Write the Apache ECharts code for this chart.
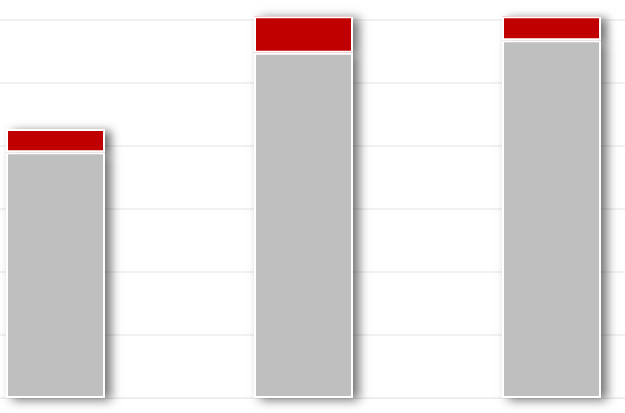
<!DOCTYPE html>
<html>
<head>
<meta charset="utf-8">
<script src="https://cdn.jsdelivr.net/npm/echarts@6/dist/echarts.min.js"></script>
<style>
  html, body { margin: 0; padding: 0; background: #fff; }
  #chart { width: 625px; height: 413px; }
</style>
</head>
<body>
<div id="chart"></div>
<script>
const categories = ["A", "B", "C"];
const baseValues = [39, 54.8, 56.8];
const topValues = [3.7, 5.8, 3.8];

function chartInit() {
  let mychart = echarts.init(document.getElementById("chart"), null, { renderer: "canvas" });
  let shadow = {
    shadowColor: "rgba(0,0,0,0.55)",
    shadowBlur: 10,
    shadowOffsetX: 6,
    shadowOffsetY: 2,
  };
  let option = {
    animation: false,
    grid: {
      left: -68.5,
      right: -50.5,
      top: -43,
      bottom: 15,
      outerBoundsMode: "none",
    },
    xAxis: {
      type: "category",
      data: categories,
      axisLine: { show: true, lineStyle: { color: "#ececec", width: 1 } },
      axisTick: { show: false },
      axisLabel: { show: false }, // 不显示类目文字
    },
    yAxis: {
      type: "value",
      min: 0,
      max: 70,
      interval: 10,
      axisLine: { show: false },
      axisTick: { show: false },
      axisLabel: { show: false },
      splitLine: { lineStyle: { color: "#ececec", width: 1.5 } },
    },
    series: [
      // 阴影层
      {
        type: "bar",
        stack: "shadow",
        data: baseValues,
        barWidth: 99,
        itemStyle: Object.assign({ color: "#bfbfbf" }, shadow),
      },
      {
        type: "bar",
        stack: "shadow",
        data: topValues,
        barWidth: 99,
        itemStyle: Object.assign({ color: "#c00000" }, shadow),
      },
      // 白边层
      {
        type: "bar",
        stack: "main",
        data: baseValues,
        barWidth: 99,
        itemStyle: { color: "#bfbfbf", borderColor: "#fff", borderWidth: 2 },
      },
      {
        type: "bar",
        stack: "main",
        data: topValues,
        barWidth: 99,
        barGap: "-100%",
        itemStyle: { color: "#c00000", borderColor: "#fff", borderWidth: 2 },
      },
    ],
  };
  mychart.setOption(option);
}
chartInit();
</script>
</body>
</html>
